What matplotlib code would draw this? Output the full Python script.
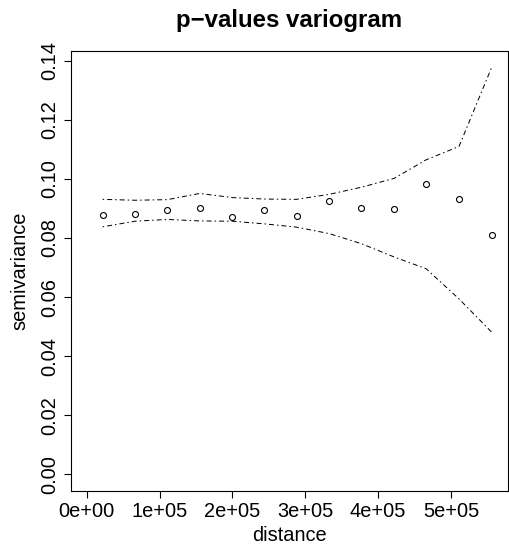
import numpy as np
import matplotlib
matplotlib.use("Agg")
import matplotlib.pyplot as plt

# distancias (centros de los bins)
distancia = [21900, 66400, 110700, 155200, 199800, 244000, 288000,
             333000, 377000, 422000, 466000, 511000, 556000]

# semivarianza empirica
semivarianza = [0.0878, 0.0881, 0.0895, 0.0901, 0.0871, 0.0896, 0.0874,
                0.0925, 0.0901, 0.0897, 0.0984, 0.0932, 0.0811]

# envolventes
env_sup = [0.0931, 0.0928, 0.0930, 0.0951, 0.0937, 0.0932, 0.0931,
           0.0948, 0.0972, 0.1002, 0.1065, 0.1110, 0.1379]
env_inf = [0.0838, 0.0857, 0.0863, 0.0858, 0.0857, 0.0848, 0.0837,
           0.0815, 0.0781, 0.0736, 0.0696, 0.0594, 0.0481]

x_ticks = [0, 100000, 200000, 300000, 400000, 500000]
x_labels = ["0e+00", "1e+05", "2e+05", "3e+05", "4e+05", "5e+05"]
y_ticks = [0.00, 0.02, 0.04, 0.06, 0.08, 0.10, 0.12, 0.14]
y_labels = ["0.00", "0.02", "0.04", "0.06", "0.08", "0.10", "0.12", "0.14"]

plt.rcParams['font.family'] = ['Liberation Sans', 'DejaVu Sans']

fig = plt.figure(figsize=(5.10, 5.54), dpi=100)
ax = fig.add_axes([70.5 / 510, 1 - 490.7 / 554, (508 - 70.5) / 510, (490.7 - 50.7) / 554])

# puntos y envolventes
ax.plot(distancia, semivarianza, linestyle="none", marker="o", markersize=4.3,
        markerfacecolor="white", markeredgecolor="black", markeredgewidth=0.8)
ax.plot(distancia, env_sup, color="black", linewidth=0.72, dashes=(1.5, 3, 5, 3))
ax.plot(distancia, env_inf, color="black", linewidth=0.72, dashes=(1.5, 3, 5, 3))

# limites tipo R (4% extra)
xmax = max(distancia)
ymax = max(env_sup)
ax.set_xlim(-0.04 * xmax, 1.04 * xmax)
ax.set_ylim(-0.04 * ymax, 1.04 * ymax)

ax.set_xticks(x_ticks)
ax.set_xticklabels(x_labels, fontsize=14.4)
ax.set_yticks(y_ticks)
ax.set_yticklabels(y_labels, fontsize=14.4, rotation=90, va="center")
ax.tick_params(direction="out", length=5, width=0.8, pad=3)

for s in ax.spines.values():
    s.set_linewidth(0.8)

ax.set_xlabel("distance", fontsize=14.4, labelpad=4)
ax.set_ylabel("semivariance", fontsize=14.4, labelpad=8)
ax.set_title("p\u2212values variogram", fontsize=17.3, fontweight="bold", pad=17)

fig.savefig("out.png", dpi=100)
